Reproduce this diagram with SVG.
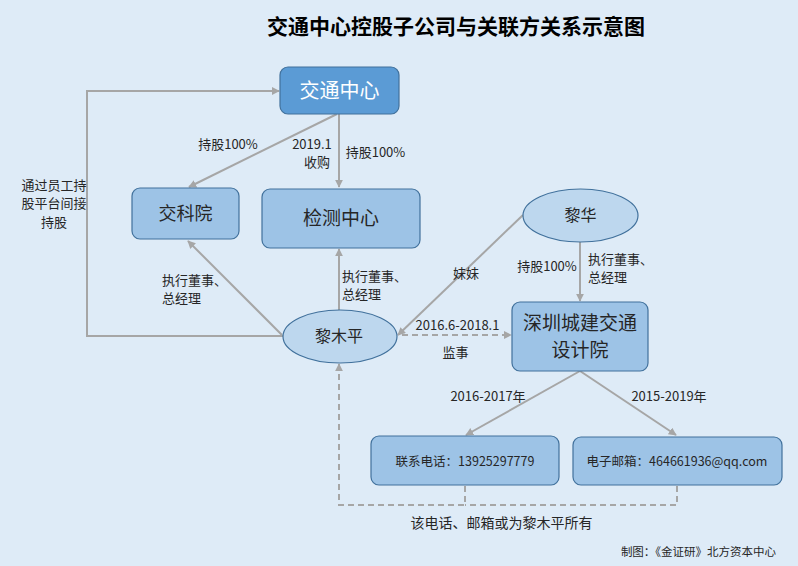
<svg xmlns="http://www.w3.org/2000/svg" width="798" height="566" viewBox="0 0 798 566">
<defs>
<marker id="ah" viewBox="0 0 10 10" refX="9" refY="5" markerWidth="8" markerHeight="8" markerUnits="userSpaceOnUse" orient="auto">
<path d="M0,0 L10,5 L0,10 z" fill="#A6A6A6"/>
</marker>
<style>
text{font-family:"Noto Sans CJK SC","Noto Sans",sans-serif;fill:#262626}
.lbl{font-size:13px}
.box{fill:#9DC3E6;stroke:#41719C;stroke-width:1.2}
.ell{fill:#BDD7EE;stroke:#41719C;stroke-width:1.2}
.ln{fill:none;stroke:#A6A6A6;stroke-width:2}
.dash{fill:none;stroke:#A6A6A6;stroke-width:2;stroke-dasharray:6,4}
</style>
</defs>
<rect width="798" height="566" fill="#DEEBF7"/>
<text x="456" y="34" text-anchor="middle" style="font-size:21px;font-weight:bold;fill:#000">交通中心控股子公司与关联方关系示意图</text>

<g id="connectors">
<line class="ln" x1="337" y1="114" x2="189" y2="187" marker-end="url(#ah)"/>
<line class="ln" x1="339" y1="114" x2="339" y2="187" marker-end="url(#ah)"/>
<polyline class="ln" points="283,336 87,336 87,91 279,91" marker-end="url(#ah)"/>
<line class="ln" x1="282" y1="335" x2="188" y2="241" marker-end="url(#ah)"/>
<line class="ln" x1="339" y1="310" x2="339" y2="249" marker-end="url(#ah)"/>
<line class="ln" x1="523" y1="215" x2="398" y2="335" marker-end="url(#ah)"/>
<line class="ln" x1="580" y1="242" x2="580" y2="301" marker-end="url(#ah)"/>
<line class="dash" x1="402" y1="335" x2="511" y2="335" marker-end="url(#ah)"/>
<line class="ln" x1="580" y1="371" x2="466" y2="435" marker-end="url(#ah)"/>
<line class="ln" x1="580" y1="371" x2="676" y2="435" marker-end="url(#ah)"/>
<polyline class="dash" points="465,486 465,505 339,505 339,364" marker-end="url(#ah)"/>
<polyline class="dash" points="677,486 677,505 465,505"/>
</g>

<g id="n-jtzx">
<rect x="280" y="67" width="119" height="47" rx="8" fill="#5B9BD5" stroke="#41719C" stroke-width="1.2"/>
<text x="339.5" y="97.5" text-anchor="middle" style="font-size:20px;fill:#fff">交通中心</text>
</g>
<g id="n-jky">
<rect class="box" x="132" y="188" width="107" height="51" rx="8"/>
<text x="185.5" y="220" text-anchor="middle" style="font-size:18px">交科院</text>
</g>
<g id="n-jczx">
<rect class="box" x="262" y="189" width="158" height="59" rx="8"/>
<text x="341" y="225" text-anchor="middle" style="font-size:19px">检测中心</text>
</g>
<g id="n-lihua">
<ellipse class="ell" cx="580.5" cy="215.5" rx="57.5" ry="26.5"/>
<text x="580.5" y="221" text-anchor="middle" style="font-size:16px">黎华</text>
</g>
<g id="n-limuping">
<ellipse class="ell" cx="340" cy="336.5" rx="57" ry="26.5"/>
<text x="339" y="342" text-anchor="middle" style="font-size:16px">黎木平</text>
</g>
<g id="n-szcj">
<rect class="box" x="512" y="302" width="136" height="69" rx="8"/>
<text x="580" y="330" text-anchor="middle" style="font-size:19px">深圳城建交通</text>
<text x="580" y="357" text-anchor="middle" style="font-size:19px">设计院</text>
</g>
<g id="n-phone">
<rect class="box" x="371" y="436" width="188" height="49" rx="8"/>
<text x="465" y="466" text-anchor="middle" style="font-size:12.5px">联系电话：13925297779</text>
</g>
<g id="n-email">
<rect class="box" x="573" y="437" width="209" height="48" rx="8"/>
<text x="677" y="466" text-anchor="middle" style="font-size:12.5px">电子邮箱：464661936@qq.com</text>
</g>

<g id="labels">
<text class="lbl" x="228" y="149" text-anchor="middle">持股100%</text>
<text class="lbl" x="312" y="149" text-anchor="middle">2019.1</text>
<text class="lbl" x="317" y="167" text-anchor="middle">收购</text>
<text class="lbl" x="375.5" y="157" text-anchor="middle">持股100%</text>
<text class="lbl" x="54" y="190" text-anchor="middle">通过员工持</text>
<text class="lbl" x="54" y="208" text-anchor="middle">股平台间接</text>
<text class="lbl" x="54" y="227" text-anchor="middle">持股</text>
<text class="lbl" x="162" y="285">执行董事、</text>
<text class="lbl" x="162" y="303">总经理</text>
<text class="lbl" x="342" y="281">执行董事、</text>
<text class="lbl" x="342" y="299">总经理</text>
<text class="lbl" x="466" y="278" text-anchor="middle">妹妹</text>
<text class="lbl" x="547" y="271" text-anchor="middle">持股100%</text>
<text class="lbl" x="588" y="264">执行董事、</text>
<text class="lbl" x="588" y="282">总经理</text>
<text class="lbl" x="457.5" y="330" text-anchor="middle">2016.6-2018.1</text>
<text class="lbl" x="455.5" y="357" text-anchor="middle">监事</text>
<text class="lbl" x="488" y="401" text-anchor="middle">2016-2017年</text>
<text class="lbl" x="669" y="401" text-anchor="middle">2015-2019年</text>
<text x="501.5" y="528" text-anchor="middle" style="font-size:14px">该电话、邮箱或为黎木平所有</text>
<text x="698.5" y="556" text-anchor="middle" style="font-size:11.5px">制图：《金证研》北方资本中心</text>
</g>
</svg>
